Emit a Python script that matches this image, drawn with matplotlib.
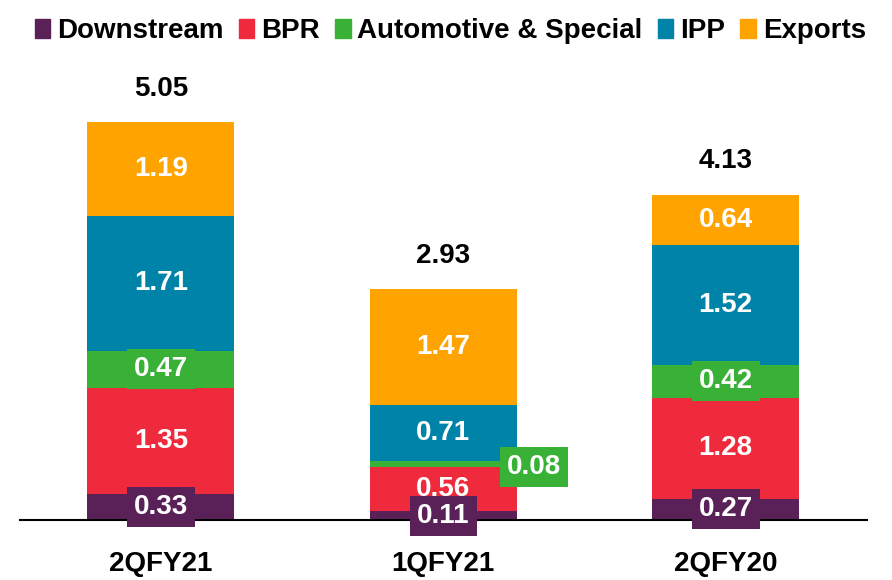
import numpy as np
import matplotlib.pyplot as plt
from matplotlib.patches import Patch

plt.rcParams['font.family'] = ['Liberation Sans', 'DejaVu Sans']
plt.rcParams['font.weight'] = 'bold'

# --- Daten ---
quarters = ['2QFY21', '1QFY21', '2QFY20']
segments = ['Downstream', 'BPR', 'Automotive & Special', 'IPP', 'Exports']
downstream = [0.33, 0.11, 0.27]
bpr = [1.35, 0.56, 1.28]
automotive = [0.47, 0.08, 0.42]
ipp = [1.71, 0.71, 1.52]
exports = [1.19, 1.47, 0.64]
totals = [5.05, 2.93, 4.13]

colors = ['#5A2159', '#EE2A3C', '#38B136', '#0083A8', '#FFA300']
series = [downstream, bpr, automotive, ipp, exports]

fig = plt.figure(figsize=(8.92, 5.80), dpi=100)
ax = fig.add_axes([0.022, 0.1034, 0.95, 0.793])

x = np.arange(len(quarters))
bottom = np.zeros(len(quarters))
for i, (vals, col) in enumerate(zip(series, colors)):
    vals = np.array(vals)
    ax.bar(x, vals, 0.52, bottom=bottom, color=col, zorder=2)
    for j, v in enumerate(vals):
        xc = x[j]
        yc = bottom[j] + v / 2
        box = None
        if i == 0:
            # Downstream: Label-Box mit Hintergrund
            box = dict(boxstyle='square,pad=0.25', fc=col, ec='none')
        elif i == 2:
            box = dict(boxstyle='square,pad=0.25', fc=col, ec='none')
            if v < 0.2:
                # zu klein -> Label rechts neben den Balken
                xc = x[j] + 0.32
                yc = bottom[j]
        ax.text(xc, yc, f'{v:.2f}', ha='center', va='center', color='white',
                fontsize=20, fontweight='bold', bbox=box, zorder=4, clip_on=False)
    bottom += vals

for j, t in enumerate(totals):
    ax.annotate(f'{t:.2f}', (x[j], bottom[j]), textcoords='offset points',
                xytext=(0, 24), ha='center', va='center', fontsize=20,
                fontweight='bold', color='black')

ax.set_xlim(-0.5, 2.5)
ax.set_ylim(0, 5.84)
ax.set_xticks(x)
ax.set_xticklabels(quarters, fontsize=20, fontweight='bold')
ax.tick_params(axis='x', length=0, pad=22)
ax.set_yticks([])
for s in ['top', 'right', 'left']:
    ax.spines[s].set_visible(False)
ax.spines['bottom'].set_linewidth(1.5)
ax.spines['bottom'].set_zorder(3)

handles = [Patch(color=c, label=s) for s, c in zip(segments, colors)]
fig.legend(handles=handles, loc='upper center', bbox_to_anchor=(0.505, 1.012),
           ncol=5, frameon=False, fontsize=20, handlelength=0.55,
           handleheight=0.65, handletextpad=0.25, columnspacing=0.55)

plt.savefig('out.png', dpi=100)
